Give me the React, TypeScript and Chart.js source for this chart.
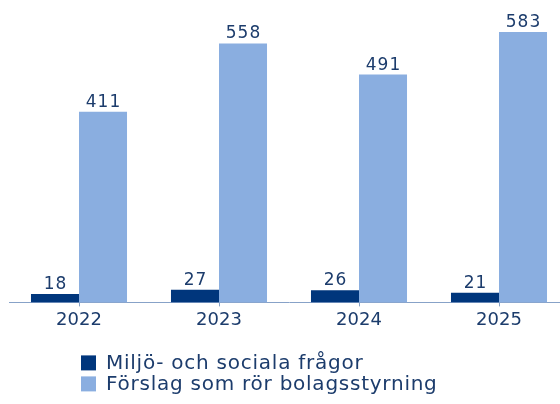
import React, { useEffect, useRef } from "react";
import { Chart, registerables } from "chart.js";

Chart.register(...registerables);

const categories = ["2022", "2023", "2024", "2025"];
const seriesNames = ["Miljö- och sociala frågor", "Förslag som rör bolagsstyrning"];
const environmentalSocial = [18, 27, 26, 21];
const governance = [411, 558, 491, 583];
const seriesColors = ["#00367c", "#8aaee0"];
const textColor = "#1c3c6c";
const axisColor = "#87a2c8";
const FONT = "'DejaVu Sans', sans-serif";

const valueLabels = {
  id: "valueLabels",
  afterDatasetsDraw(chart: any) {
    const ctx = chart.ctx;
    ctx.save();
    ctx.font = `17px ${FONT}`;
    (ctx as any).letterSpacing = "1px";
    ctx.fillStyle = textColor;
    ctx.textAlign = "center";
    ctx.textBaseline = "alphabetic";
    chart.data.datasets.forEach((ds: any, i: number) => {
      const meta = chart.getDatasetMeta(i);
      meta.data.forEach((bar: any, j: number) => {
        ctx.fillText(String(ds.data[j]), bar.x + 0.5, bar.y - 5);
      });
    });
    ctx.restore();
  },
};

const bottomLegend = {
  id: "bottomLegend",
  afterDraw(chart: any) {
    const ctx = chart.ctx;
    const base = chart.chartArea.bottom;
    ctx.save();
    ctx.font = `20px ${FONT}`;
    (ctx as any).letterSpacing = "0.75px";
    ctx.textBaseline = "middle";
    ctx.textAlign = "left";
    chart.data.datasets.forEach((ds: any, i: number) => {
      const y = base + 60 + i * 21;
      ctx.fillStyle = ds.backgroundColor;
      ctx.fillRect(81, y - 7, 15, 15);
      ctx.fillStyle = textColor;
      ctx.fillText(ds.label, 106, y + 1);
    });
    ctx.restore();
  },
};

export default function App() {
  const canvasRef = useRef<HTMLCanvasElement | null>(null);

  useEffect(() => {
    if (!canvasRef.current) return;
    const chart = new Chart(canvasRef.current, {
      type: "bar",
      data: {
        labels: categories,
        datasets: [
          {
            label: seriesNames[0],
            data: environmentalSocial,
            backgroundColor: seriesColors[0],
            categoryPercentage: 0.686,
            barPercentage: 1,
          },
          {
            label: seriesNames[1],
            data: governance,
            backgroundColor: seriesColors[1],
            categoryPercentage: 0.686,
            barPercentage: 1,
          },
        ],
      },
      options: {
        animation: false,
        responsive: false,
        maintainAspectRatio: false,
        layout: { padding: { left: 9, right: 0, top: 24, bottom: 70 } },
        plugins: {
          legend: { display: false },
          tooltip: { enabled: false },
        },
        scales: {
          x: {
            grid: {
              display: true,
              drawOnChartArea: false,
              drawTicks: true,
              tickLength: 4,
              offset: false,
              color: axisColor,
            },
            border: { display: true, color: axisColor, width: 1 },
            ticks: {
              color: textColor,
              font: { family: FONT, size: 18 },
              padding: 3,
            },
          },
          y: {
            display: false,
            min: 0,
            max: 600,
          },
        },
      },
      plugins: [valueLabels, bottomLegend],
    });
    return () => chart.destroy();
  }, []);

  return (
    <div style={{ position: "absolute", left: 0, top: 0, width: 560, height: 404, overflow: "hidden" }}>
      <canvas ref={canvasRef} width={569} height={404} style={{ display: "block" }} />
    </div>
  );
}
